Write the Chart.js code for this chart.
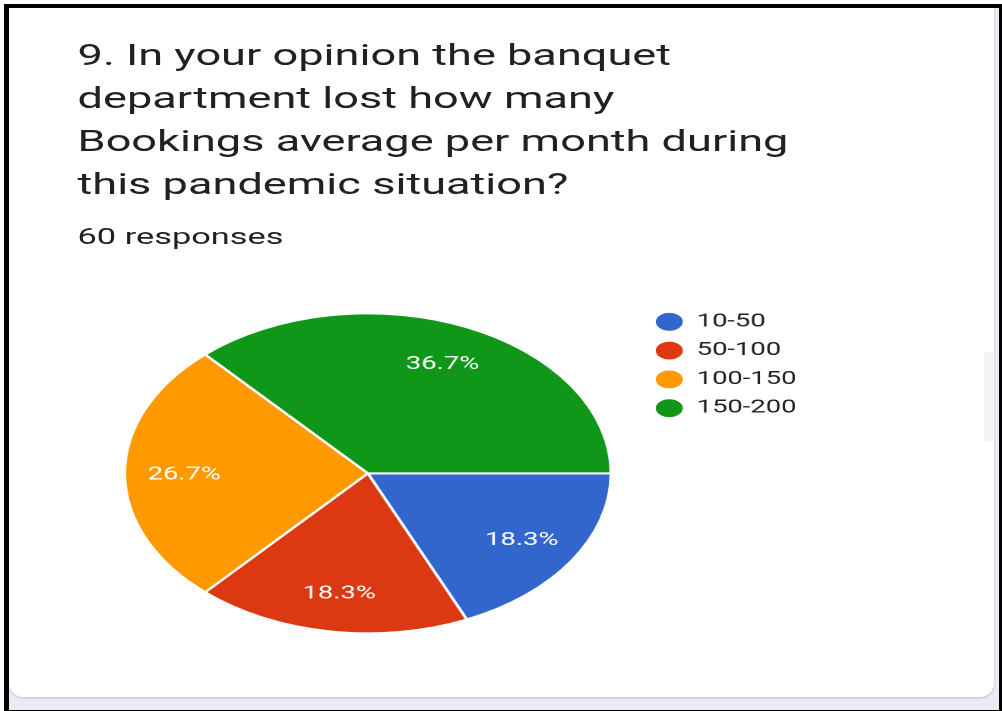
<!DOCTYPE html>
<html>
<head>
<meta charset="utf-8">
<script src="https://cdn.jsdelivr.net/npm/chart.js@4/dist/chart.umd.min.js"></script>
<style>
  html, body { margin: 0; padding: 0; background: #ffffff; }
  body { width: 1002px; height: 711px; position: relative; overflow: hidden; font-family: Roboto, "Noto Sans", sans-serif; }
  #frame { position: absolute; left: 4px; top: 4px; width: 990px; height: 702px;
    border-style: solid; border-color: #000; border-width: 4px 5px 5px 5px; background: #ebeaf5; overflow: hidden; }
  #card { position: absolute; left: 0; top: 0; width: 985px; height: 689px; background: #fff;
    border-radius: 0 0 14px 14px; box-shadow: 0 1px 3px rgba(60,64,67,0.25); }
  #scroll { position: absolute; left: 975px; top: 344px; width: 10px; height: 89px; background: #f4f4f4; }
  #wrap { position: absolute; left: 0; top: 0; width: 659px; height: 711px; transform: scaleX(1.52); transform-origin: 0 0; }
  .title { position: absolute; left: 51px; color: #202124; font-size: 29.7px; line-height: 43px; white-space: nowrap; }
  #resp { position: absolute; left: 51px; top: 226px; color: #202124; font-size: 22.6px; line-height: 22px; white-space: nowrap; }
  #chartBox { position: absolute; left: 0; top: 290px; width: 659px; height: 370px; }
</style>
</head>
<body>
<div id="frame"><div id="card"></div><div id="scroll"></div></div>
<div id="wrap">
  <div id="titles"></div>
  <div id="resp"></div>
  <div id="chartBox"><canvas id="c" width="659" height="370" style="width:659px;height:370px"></canvas></div>
</div>
<script>
const titleLines = [
  "9. In your opinion the banquet",
  "department lost how many",
  "Bookings average per month during",
  "this pandemic situation?"
];
const responsesText = "60 responses";
const categories = ["10-50", "50-100", "100-150", "150-200"];
const counts = [11, 11, 16, 22];
const sliceColors = ["#3366cc", "#dc3912", "#ff9900", "#109618"];

const titles = document.getElementById('titles');
titleLines.forEach((t, i) => {
  const d = document.createElement('div');
  d.className = 'title';
  d.style.top = (33 + i * 43) + 'px';
  d.textContent = t;
  titles.appendChild(d);
});
document.getElementById('resp').textContent = responsesText;

const total = counts.reduce((a, b) => a + b, 0);
const percentLabels = counts.map(v => (v / total * 100).toFixed(1) + '%');

const sliceLabelPlugin = {
  id: 'sliceLabels',
  afterDatasetsDraw(chart) {
    const meta = chart.getDatasetMeta(0);
    const ctx = chart.ctx;
    ctx.save();
    ctx.font = '18px Roboto';
    ctx.fillStyle = '#ffffff';
    ctx.textAlign = 'center';
    ctx.textBaseline = 'middle';
    meta.data.forEach((arc, i) => {
      const p = arc.getProps(['x', 'y', 'startAngle', 'endAngle', 'outerRadius'], true);
      const a = (p.startAngle + p.endAngle) / 2;
      const r = p.outerRadius * 0.755;
      ctx.fillText(percentLabels[i], p.x + Math.cos(a) * r, p.y + Math.sin(a) * r + 1.5);
    });
    ctx.restore();
  }
};

function draw() {
  new Chart(document.getElementById('c'), {
    type: 'pie',
    data: {
      labels: categories,
      datasets: [{
        data: counts,
        backgroundColor: sliceColors,
        borderColor: '#ffffff',
        borderWidth: 2
      }]
    },
    options: {
      responsive: false,
      devicePixelRatio: 2,
      animation: false,
      rotation: 90,
      radius: 160,
      layout: { padding: { left: 63.5, top: 12, right: 125, bottom: 15.3 } },
      plugins: {
        legend: {
          position: 'right',
          align: 'start',
          labels: {
            usePointStyle: true,
            pointStyle: 'circle',
            boxWidth: 18,
            boxHeight: 14,
            padding: 10.8,
            color: '#222222',
            font: { family: 'Roboto', size: 18 }
          }
        },
        tooltip: { enabled: false }
      }
    },
    plugins: [sliceLabelPlugin]
  });
}
if (document.fonts && document.fonts.load) {
  document.fonts.load('18px Roboto').then(draw, draw);
} else { draw(); }
</script>
</body>
</html>
